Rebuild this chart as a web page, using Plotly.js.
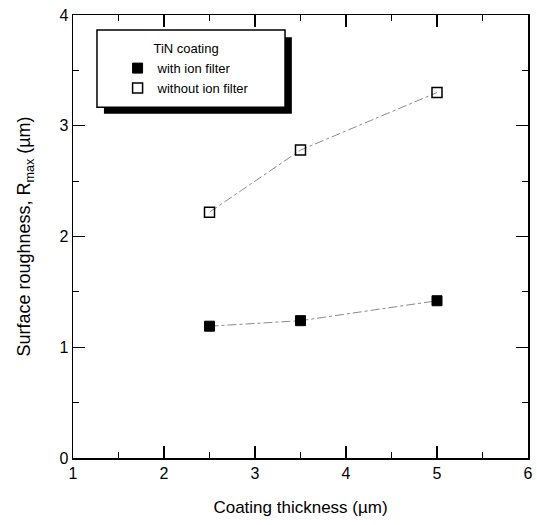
<!DOCTYPE html>
<html>
<head>
<meta charset="utf-8">
<script src="https://cdn.plot.ly/plotly-3.0.1.min.js"></script>
<style>html,body{margin:0;padding:0;background:#fff;}#chart{width:537px;height:525px;}</style>
</head>
<body>
<div id="chart"></div>
<script>
var thickness = [2.5, 3.5, 5];
var withFilter = [1.19, 1.24, 1.42];
var withoutFilter = [2.22, 2.78, 3.30];
var xTicks = [1, 2, 3, 4, 5, 6];
var yTicks = [0, 1, 2, 3, 4];
var seriesNames = ["with ion filter", "without ion filter"];
var legendTitle = "TiN coating";

var fontFam = "Liberation Sans, Arial, sans-serif";
var lineStyle = {color: "#8a8a8a", width: 1, dash: "dashdot"};

var traces = [
  {x: thickness, y: withFilter, type: "scatter", mode: "lines", line: lineStyle, showlegend: false, hoverinfo: "skip"},
  {x: thickness, y: withoutFilter, type: "scatter", mode: "lines", line: lineStyle, showlegend: false, hoverinfo: "skip"},
  {
    x: thickness, y: withFilter, name: seriesNames[0], type: "scatter", mode: "markers",
    marker: {symbol: "square", size: 10, color: "#000", line: {color: "#000", width: 1}}
  },
  {
    x: thickness, y: withoutFilter, name: seriesNames[1], type: "scatter", mode: "markers",
    marker: {symbol: "square-open", size: 10, color: "#000", line: {color: "#000", width: 1.5}}
  }
];

var axisCommon = {
  showline: true, linecolor: "#000", linewidth: 1.5, mirror: "ticks",
  ticks: "inside", ticklen: 12, tickwidth: 1.2, tickcolor: "#000",
  showgrid: false, zeroline: false,
  tickfont: {family: fontFam, size: 16, color: "#000"},
  minor: {ticks: "inside", ticklen: 6, tickwidth: 1, tickcolor: "#000", dtick: 0.5}
};

var layout = {
  width: 537, height: 525,
  margin: {l: 73, r: 9, t: 15, b: 67},
  paper_bgcolor: "#fff", plot_bgcolor: "#fff",
  showlegend: true,
  xaxis: Object.assign({}, axisCommon, {
    range: [1, 6], tickvals: xTicks,
    title: {text: "Coating thickness (\u00b5m)", font: {family: fontFam, size: 17, color: "#000"}, standoff: 20}
  }),
  yaxis: Object.assign({}, axisCommon, {
    range: [0, 4], tickvals: yTicks,
    title: {text: "Surface roughness, R<sub>max</sub> (\u00b5m)", font: {family: fontFam, size: 18, color: "#000"}, standoff: 24}
  }),
  legend: {
    x: 0.098, y: 0.952, xanchor: "left", yanchor: "top",
    bgcolor: "rgba(0,0,0,0)", borderwidth: 0,
    font: {family: fontFam, size: 13, color: "#000"},
    title: {text: legendTitle, side: "top center", font: {family: fontFam, size: 13, color: "#000"}},
    itemwidth: 30, tracegroupgap: 0
  },
  shapes: [
    {type: "rect", xref: "paper", yref: "paper", x0: 0.068, x1: 0.481, y0: 0.777, y1: 0.950,
     fillcolor: "#000", line: {width: 0}, layer: "above"},
    {type: "rect", xref: "paper", yref: "paper", x0: 0.0527, x1: 0.466, y0: 0.792, y1: 0.966,
     fillcolor: "#fff", line: {color: "#000", width: 1.5}, layer: "above"}
  ]
};

Plotly.newPlot("chart", traces, layout, {displayModeBar: false, staticPlot: true});
</script>
</body>
</html>
